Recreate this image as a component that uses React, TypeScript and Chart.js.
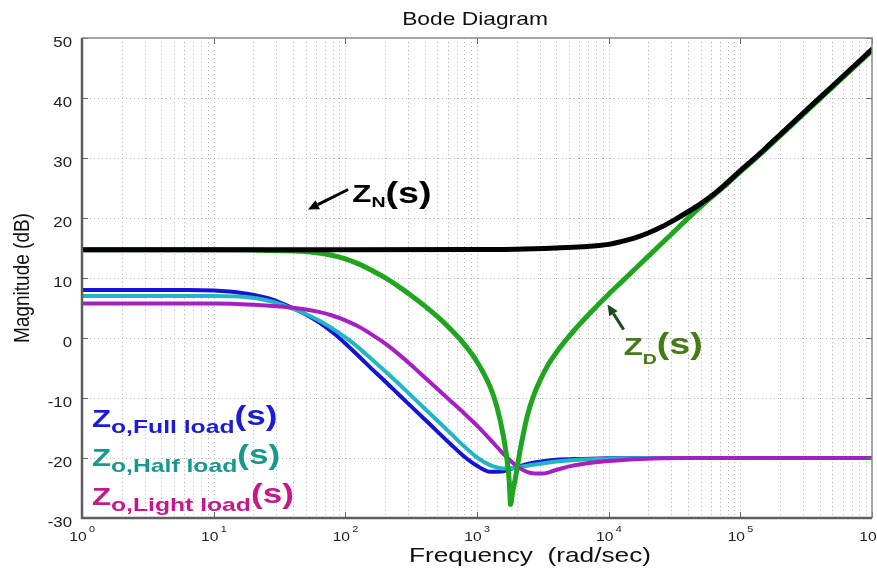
import React, { useEffect, useRef } from 'react';
import { Chart, registerables } from 'chart.js';

Chart.register(...registerables);

const WIDTH = 877;
const HEIGHT = 571;
const FONT = '"Liberation Sans", Arial, Helvetica, sans-serif';

// ---- data (frequency in rad/s, magnitude in dB) ----
const zNFreq = [1, 100, 1000, 2000, 3981, 6310, 10000, 12589, 15849, 19953, 25119, 31623, 39811, 50119, 63096, 79433, 100000, 125893, 158489, 251189, 501187, 1000000];
const zNMag = [14.7, 14.7, 14.75, 14.8, 15.0, 15.2, 15.6, 16.1, 16.7, 17.5, 18.5, 19.7, 21.0, 22.4, 24.0, 25.9, 27.9, 29.8, 31.8, 35.9, 42.0, 48.1];

const zDFreq = [1, 10, 20, 40, 56, 79, 100, 126, 158, 200, 251, 316, 398, 501, 631, 794, 1000, 1259, 1413, 1585, 1698, 1758, 1799, 1862, 1963, 2143, 2421, 2692, 3041, 3420, 3981, 5012, 6310, 7943, 10000, 12589, 15849, 19953, 25119, 31623, 39811, 50119, 63096, 79433, 100000, 125893, 158489, 251189, 501187, 1000000];
const zDMag = [14.7, 14.7, 14.65, 14.5, 14.3, 13.8, 13.2, 12.35, 11.3, 10.05, 8.65, 7.1, 5.4, 3.55, 1.45, -0.95, -3.95, -8.15, -11.4, -16.3, -20.6, -24.0, -27.75, -25.8, -23.2, -18.3, -12.8, -9.6, -6.9, -4.7, -2.5, 0.3, 2.8, 5.1, 7.3, 9.4, 11.5, 13.6, 15.7, 17.8, 19.9, 21.9, 23.8, 25.7, 27.7, 29.6, 31.6, 35.7, 41.8, 47.9];

const zFullFreq = [1, 6.3, 10, 15.8, 25.1, 31.6, 39.8, 50.1, 63.1, 79.4, 100, 126, 158, 200, 251, 316, 398, 501, 631, 794, 1000, 1259, 1585, 1995, 2512, 3162, 3981, 6310, 10000, 19953, 1000000];
const zFullMag = [8.0, 8.0, 7.9, 7.55, 6.7, 5.95, 5.0, 3.9, 2.6, 1.0, -0.9, -3.0, -5.1, -7.2, -9.3, -11.4, -13.5, -15.6, -17.7, -19.7, -21.3, -22.3, -22.2, -21.5, -20.9, -20.55, -20.3, -20.15, -20.05, -20.0, -20.0];

const zHalfFreq = [1, 10, 19, 25.1, 31.6, 39.8, 50.1, 63.1, 79.4, 100, 126, 158, 200, 251, 316, 398, 501, 631, 794, 1000, 1259, 1585, 1995, 2512, 3162, 3981, 6310, 10000, 19953, 1000000];
const zHalfMag = [7.0, 7.0, 6.75, 6.3, 5.7, 4.9, 4.0, 2.9, 1.6, 0.1, -1.6, -3.5, -5.5, -7.5, -9.6, -11.7, -13.8, -15.9, -18.0, -19.9, -21.2, -21.75, -21.6, -21.2, -20.9, -20.6, -20.25, -20.1, -20.0, -20.0];

const zLightFreq = [1, 10, 20, 33.9, 50.1, 63.1, 79.4, 100, 126, 158, 200, 251, 316, 398, 501, 631, 794, 1000, 1259, 1585, 1995, 2512, 3162, 3981, 5012, 6310, 7943, 10000, 15849, 25119, 39811, 1000000];
const zLightMag = [5.75, 5.75, 5.55, 5.2, 4.75, 4.35, 3.75, 2.95, 1.9, 0.6, -0.9, -2.6, -4.5, -6.5, -8.5, -10.5, -12.5, -14.6, -16.9, -19.3, -21.3, -22.45, -22.6, -22.0, -21.4, -21.0, -20.7, -20.5, -20.2, -20.05, -20.0, -20.0];

// ---- axes ----
const xDecades = [1, 10, 100, 1000, 10000, 100000, 1000000];
const xExponents = ['0', '1', '2', '3', '4', '5', '6'];
const xMinorMultipliers = [2, 3, 4, 5, 6, 7, 8, 9];
const yTicks = [-30, -20, -10, 0, 10, 20, 30, 40, 50];

const titleText = 'Bode Diagram';
const xTitleText = 'Frequency  (rad/sec)';
const yTitleText = 'Magnitude (dB)';

// ---- series styling (first entry is drawn on top) ----
const seriesList = [
  { freq: zNFreq, mag: zNMag, color: '#000000', width: 5 },
  { freq: zDFreq, mag: zDMag, color: '#1fa51f', width: 5 },
  { freq: zLightFreq, mag: zLightMag, color: '#a51fc2', width: 4 },
  { freq: zHalfFreq, mag: zHalfMag, color: '#22b5c2', width: 4 },
  { freq: zFullFreq, mag: zFullMag, color: '#1414d6', width: 4 },
];

type Run = { text: string; size: number; dy: number };

const textScaleX = 1.2;
const labelScaleX = 1.3;

// anchors for the callouts, in data units (rad/s, dB)
const callouts = [
  {
    at: { f: 113, db: 22.6 },
    color: '#000000',
    runs: [
      { text: 'Z', size: 24, dy: 0 },
      { text: 'N', size: 15, dy: 5 },
      { text: '(s)', size: 29, dy: 1 },
    ] as Run[],
  },
  {
    at: { f: 13000, db: -2.75 },
    color: '#457a16',
    runs: [
      { text: 'Z', size: 24, dy: 0 },
      { text: 'D', size: 15, dy: 9 },
      { text: '(s)', size: 29, dy: -1 },
    ] as Run[],
  },
  {
    at: { f: 1.19, db: -14.75 },
    color: '#1c1cd6',
    runs: [
      { text: 'Z', size: 24, dy: 0 },
      { text: 'o,Full load', size: 19, dy: 6 },
      { text: '(s)', size: 27, dy: -2 },
    ] as Run[],
  },
  {
    at: { f: 1.19, db: -21.4 },
    color: '#17998f',
    runs: [
      { text: 'Z', size: 24, dy: 0 },
      { text: 'o,Half load', size: 19, dy: 6 },
      { text: '(s)', size: 27, dy: -2 },
    ] as Run[],
  },
  {
    at: { f: 1.19, db: -27.75 },
    color: '#c8178c',
    runs: [
      { text: 'Z', size: 24, dy: 0 },
      { text: 'o,Light load', size: 19, dy: 6 },
      { text: '(s)', size: 27, dy: -2 },
    ] as Run[],
  },
];

const arrows = [
  { from: { f: 105, db: 24.75 }, to: { f: 52, db: 21.4 }, color: '#000000' },
  { from: { f: 13000, db: 1.4 }, to: { f: 9800, db: 5.6 }, color: '#1e4a1e' },
];

function drawStretched(
  ctx: CanvasRenderingContext2D,
  text: string,
  x: number,
  y: number,
  font: string,
  color: string,
  align: 'left' | 'center' | 'right',
  scaleX: number,
  baseline: CanvasTextBaseline = 'alphabetic'
) {
  ctx.save();
  ctx.font = font;
  ctx.fillStyle = color;
  ctx.textBaseline = baseline;
  ctx.textAlign = 'left';
  const w = ctx.measureText(text).width * scaleX;
  let left = x;
  if (align === 'center') left = x - w / 2;
  else if (align === 'right') left = x - w;
  ctx.translate(left, y);
  ctx.scale(scaleX, 1);
  ctx.fillText(text, 0, 0);
  ctx.restore();
  return w;
}

function drawArrow(ctx: CanvasRenderingContext2D, x1: number, y1: number, x2: number, y2: number, color: string) {
  const ang = Math.atan2(y2 - y1, x2 - x1);
  const headLen = 11;
  const headHalf = 5;
  const bx = x2 - headLen * Math.cos(ang);
  const by = y2 - headLen * Math.sin(ang);
  ctx.save();
  ctx.strokeStyle = color;
  ctx.fillStyle = color;
  ctx.lineWidth = 3;
  ctx.beginPath();
  ctx.moveTo(x1, y1);
  ctx.lineTo(bx, by);
  ctx.stroke();
  ctx.beginPath();
  ctx.moveTo(x2, y2);
  ctx.lineTo(bx + headHalf * Math.sin(ang), by - headHalf * Math.cos(ang));
  ctx.lineTo(bx - headHalf * Math.sin(ang), by + headHalf * Math.cos(ang));
  ctx.closePath();
  ctx.fill();
  ctx.restore();
}

const bodeFramePlugin = {
  id: 'bodeFrame',
  beforeDatasetsDraw(chart: any) {
    const { ctx, chartArea, scales } = chart;
    const xs = scales.x;
    const ys = scales.y;
    ctx.save();
    ctx.strokeStyle = '#b4b4b4';
    ctx.lineWidth = 1;
    ctx.setLineDash([1, 3]);
    // vertical grid: decades and their minor multiples
    const gridX: number[] = [];
    xDecades.forEach((d, i) => {
      gridX.push(d);
      if (i < xDecades.length - 1) xMinorMultipliers.forEach((m) => gridX.push(m * d));
    });
    gridX.forEach((v) => {
      const px = Math.round(xs.getPixelForValue(v)) + 0.5;
      if (px <= chartArea.left + 1 || px >= chartArea.right - 1) return;
      ctx.beginPath();
      ctx.moveTo(px, chartArea.top);
      ctx.lineTo(px, chartArea.bottom);
      ctx.stroke();
    });
    yTicks.forEach((v) => {
      const py = Math.round(ys.getPixelForValue(v)) + 0.5;
      if (py <= chartArea.top + 1 || py >= chartArea.bottom - 1) return;
      ctx.beginPath();
      ctx.moveTo(chartArea.left, py);
      ctx.lineTo(chartArea.right, py);
      ctx.stroke();
    });
    ctx.restore();
  },
  afterDatasetsDraw(chart: any) {
    const { ctx, scales } = chart;
    const xs = scales.x;
    const ys = scales.y;
    arrows.forEach((a) => {
      drawArrow(
        ctx,
        xs.getPixelForValue(a.from.f),
        ys.getPixelForValue(a.from.db),
        xs.getPixelForValue(a.to.f),
        ys.getPixelForValue(a.to.db),
        a.color
      );
    });
    callouts.forEach((c) => {
      let x = xs.getPixelForValue(c.at.f);
      const y = ys.getPixelForValue(c.at.db);
      c.runs.forEach((r) => {
        x += drawStretched(ctx, r.text, x, y + r.dy, `bold ${r.size}px ${FONT}`, c.color, 'left', labelScaleX);
      });
    });
  },
  afterDraw(chart: any) {
    const { ctx, chartArea, scales } = chart;
    const xs = scales.x;
    const ys = scales.y;
    const { left, right, top, bottom } = chartArea;

    // tick marks on all four sides
    ctx.save();
    ctx.strokeStyle = '#666666';
    ctx.lineWidth = 1;
    yTicks.forEach((v) => {
      const py = Math.round(ys.getPixelForValue(v)) + 0.5;
      ctx.beginPath();
      ctx.moveTo(left, py);
      ctx.lineTo(left + 6, py);
      ctx.moveTo(right, py);
      ctx.lineTo(right - 6, py);
      ctx.stroke();
    });
    xDecades.forEach((v) => {
      const px = Math.round(xs.getPixelForValue(v)) + 0.5;
      ctx.beginPath();
      ctx.moveTo(px, bottom);
      ctx.lineTo(px, bottom - 6);
      ctx.moveTo(px, top);
      ctx.lineTo(px, top + 6);
      ctx.stroke();
    });

    // axes box
    ctx.strokeStyle = '#8a8a8a';
    ctx.lineWidth = 1.5;
    ctx.beginPath();
    ctx.moveTo(left, top);
    ctx.lineTo(right, top);
    ctx.lineTo(right, bottom);
    ctx.stroke();
    ctx.strokeStyle = '#5e5e5e';
    ctx.lineWidth = 2.5;
    ctx.beginPath();
    ctx.moveTo(left, top);
    ctx.lineTo(left, bottom);
    ctx.lineTo(right, bottom);
    ctx.stroke();
    ctx.restore();

    // y tick labels
    yTicks.forEach((v) => {
      const py = ys.getPixelForValue(v);
      drawStretched(ctx, String(v), left - 10, py + 5, `14px ${FONT}`, '#222222', 'right', textScaleX, 'middle');
    });

    // x tick labels: 10 with superscript exponent
    xDecades.forEach((v, i) => {
      const px = xs.getPixelForValue(v);
      drawStretched(ctx, '10', px - 4, bottom + 19, `13px ${FONT}`, '#222222', 'center', textScaleX, 'middle');
      drawStretched(ctx, xExponents[i], px + 7, bottom + 12, `9px ${FONT}`, '#222222', 'left', textScaleX, 'middle');
    });

    // titles
    drawStretched(ctx, titleText, 475, 25, `19px ${FONT}`, '#111111', 'center', textScaleX);
    drawStretched(ctx, xTitleText, 530, 562, `21px ${FONT}`, '#111111', 'center', 1.25);

    ctx.save();
    ctx.translate(23, (top + bottom) / 2);
    ctx.scale(1.15, 1);
    ctx.rotate(-Math.PI / 2);
    ctx.font = `19px ${FONT}`;
    ctx.fillStyle = '#111111';
    ctx.textAlign = 'center';
    ctx.textBaseline = 'middle';
    ctx.fillText(yTitleText, 0, 0);
    ctx.restore();
  },
};

export default function App() {
  const canvasRef = useRef<HTMLCanvasElement | null>(null);

  useEffect(() => {
    const canvas = canvasRef.current;
    if (!canvas) return;
    const datasets = seriesList.map((s) => ({
      data: s.freq.map((f, i) => ({ x: f, y: s.mag[i] })),
      borderColor: s.color,
      backgroundColor: s.color,
      borderWidth: s.width,
      pointRadius: 0,
      fill: false,
      cubicInterpolationMode: 'monotone' as const,
      borderCapStyle: 'round' as const,
      borderJoinStyle: 'round' as const,
    }));
    const chart = new Chart(canvas, {
      type: 'line',
      data: { datasets },
      options: {
        responsive: false,
        animation: false,
        devicePixelRatio: 1,
        layout: { padding: { left: 82, right: 5, top: 38, bottom: 53 } },
        plugins: {
          legend: { display: false },
          tooltip: { enabled: false },
          title: { display: false },
        },
        scales: {
          x: { type: 'logarithmic', min: 1, max: 1000000, display: false },
          y: { type: 'linear', min: -30, max: 50, display: false },
        },
      },
      plugins: [bodeFramePlugin],
    });
    return () => chart.destroy();
  }, []);

  return (
    <div style={{ position: 'absolute', left: 0, top: 0, width: WIDTH, height: HEIGHT, background: '#ffffff' }}>
      <canvas ref={canvasRef} width={WIDTH} height={HEIGHT} />
    </div>
  );
}
